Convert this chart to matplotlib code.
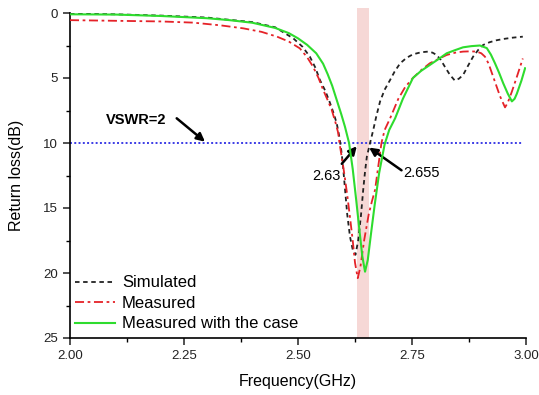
import matplotlib
matplotlib.use("Agg")
import matplotlib.pyplot as plt
from matplotlib.ticker import MultipleLocator, FormatStrFormatter

plt.rcParams['font.family'] = ['Liberation Sans', 'DejaVu Sans']

# simulated return loss (dB)
sim_f = [2.00, 2.10, 2.20, 2.30, 2.40, 2.45, 2.49, 2.51, 2.526, 2.538, 2.548, 2.56, 2.57,
         2.578, 2.585, 2.590, 2.594, 2.598, 2.603, 2.608, 2.614, 2.620, 2.626, 2.632, 2.638,
         2.643, 2.647, 2.651, 2.658, 2.665, 2.672, 2.680, 2.690, 2.702, 2.712, 2.724, 2.738,
         2.752, 2.77, 2.785, 2.795, 2.804, 2.813, 2.822, 2.833, 2.844, 2.853, 2.862, 2.873,
         2.884, 2.895, 2.906, 2.92, 2.935, 2.95, 2.97, 2.993]
sim_rl = [0.05, 0.1, 0.2, 0.35, 0.7, 1.1, 1.96, 2.6, 3.36, 4.2, 5.15, 6.0, 6.9,
          7.7, 8.5, 9.4, 10.3, 11.5, 13.5, 15.5, 17.2, 18.2, 18.6, 17.5, 15.6,
          13.6, 12.2, 11.05, 10.0, 9.0, 7.9, 6.8, 5.9, 5.15, 4.5, 3.87, 3.45,
          3.18, 3.02, 2.97, 3.05, 3.23, 3.6, 4.13, 4.75, 5.2, 5.05, 4.77, 4.05,
          3.36, 2.85, 2.46, 2.25, 2.1, 2.0, 1.9, 1.82]

# measured
meas_f = [2.00, 2.10, 2.20, 2.27, 2.33, 2.38, 2.42, 2.454, 2.48, 2.504, 2.52, 2.533, 2.545,
          2.555, 2.565, 2.574, 2.582, 2.588, 2.591, 2.600, 2.608, 2.615, 2.620, 2.625, 2.631,
          2.637, 2.645, 2.655, 2.662, 2.669, 2.676, 2.683, 2.690, 2.702, 2.72, 2.735, 2.752,
          2.77, 2.789, 2.81, 2.826, 2.845, 2.862, 2.877, 2.892, 2.902, 2.910, 2.918, 2.928,
          2.936, 2.943, 2.954, 2.960, 2.969, 2.980, 2.993]
meas_rl = [0.55, 0.6, 0.65, 0.74, 0.95, 1.18, 1.45, 1.82, 2.2, 2.72, 3.4, 4.13, 5.0,
           5.9, 6.7, 7.46, 8.4, 9.2, 10.0, 12.0, 14.0, 16.0, 17.5, 19.2, 20.4,
           19.5, 17.5, 15.5, 14.5, 13.6, 11.8, 10.0, 9.0, 8.1, 6.6, 5.7, 5.0,
           4.4, 3.87, 3.5, 3.23, 3.05, 2.97, 2.95, 2.97, 3.1, 3.36, 3.9, 4.9,
           5.7, 6.4, 7.26, 6.9, 6.05, 4.9, 3.5]

# measured with the case
case_f = [2.00, 2.10, 2.20, 2.30, 2.35, 2.40, 2.45, 2.48, 2.50, 2.52, 2.54, 2.555, 2.565,
          2.575, 2.585, 2.595, 2.603, 2.612, 2.620, 2.628, 2.635, 2.641, 2.647, 2.653, 2.660,
          2.668, 2.678, 2.690, 2.700, 2.713, 2.73, 2.752, 2.77, 2.789, 2.81, 2.826, 2.845,
          2.862, 2.88, 2.899, 2.914, 2.923, 2.932, 2.941, 2.950, 2.960, 2.969, 2.975, 2.980,
          2.990, 2.998]
case_rl = [0.10, 0.12, 0.23, 0.40, 0.55, 0.75, 1.15, 1.55, 1.95, 2.45, 3.1, 3.9, 4.7,
           5.6, 6.7, 7.8, 8.75, 10.0, 12.0, 14.5, 16.8, 18.7, 19.9, 19.0, 17.0,
           14.8, 12.3, 10.1, 9.0, 8.1, 6.6, 5.0, 4.45, 4.0, 3.5, 3.1, 2.85,
           2.64, 2.55, 2.5, 2.7, 3.2, 3.87, 4.6, 5.4, 6.2, 6.8, 6.6, 6.2,
           5.2, 4.25]

vswr_level = 10
band = (2.63, 2.655)

fig = plt.figure(figsize=(5.39, 3.95), dpi=100)
ax = fig.add_axes([70 / 539, 1 - 338 / 395, 456 / 539, 325 / 395])

ax.axvspan(band[0], band[1], ymin=0, ymax=1.015, color='#f6d8d6', lw=0, clip_on=False, zorder=0)
ax.plot([2.0, 2.993], [vswr_level, vswr_level], color='#3c3ce6', lw=1.4, ls=(0, (1, 1.2)), zorder=2)

ax.plot(sim_f, sim_rl, color='#222222', lw=1.3, ls=(0, (2.5, 2)), label='Simulated', zorder=3)
ax.plot(meas_f, meas_rl, color='#e52228', lw=1.3, ls=(0, (5, 2, 1.5, 2)), label='Measured', zorder=3)
ax.plot(case_f, case_rl, color='#2edc2e', lw=1.5, label='Measured with the case', zorder=4)

ax.set_xlim(2.0, 3.0)
ax.set_ylim(25, 0)
for s in ['top', 'right']:
    ax.spines[s].set_visible(False)
for s in ['left', 'bottom']:
    ax.spines[s].set_linewidth(1.2)
ax.xaxis.set_major_locator(MultipleLocator(0.25))
ax.xaxis.set_minor_locator(MultipleLocator(0.125))
ax.yaxis.set_major_locator(MultipleLocator(5))
ax.yaxis.set_minor_locator(MultipleLocator(2.5))
ax.xaxis.set_major_formatter(FormatStrFormatter('%.2f'))
ax.tick_params(which='major', direction='out', length=5, width=1.1, labelsize=9.5, colors='#222222')
ax.tick_params(which='minor', direction='out', length=3, width=1.0)

ax.set_xlabel('Frequency(GHz)', fontsize=11.5, labelpad=9)
ax.set_ylabel('Return loss(dB)', fontsize=11.5, labelpad=14)

arrow = dict(arrowstyle='-|>', color='black', lw=1.8, mutation_scale=12, shrinkA=0, shrinkB=0)
ax.annotate('', xy=(2.296, 9.9), xytext=(2.234, 8.1), arrowprops=arrow)
ax.text(2.212, 8.2, 'VSWR=2', fontsize=10.5, fontweight='bold', ha='right', va='center')
ax.annotate('', xy=(2.629, 10.25), xytext=(2.596, 11.6), arrowprops=arrow)
ax.text(2.562, 12.5, '2.63', fontsize=10.5, ha='center', va='center')
ax.annotate('', xy=(2.656, 10.35), xytext=(2.727, 12.1), arrowprops=arrow)
ax.text(2.770, 12.3, '2.655', fontsize=10.5, ha='center', va='center')

ax.legend(loc='lower left', bbox_to_anchor=(-0.003, 0.0), frameon=False, fontsize=12,
          handlelength=2.4, handletextpad=0.4, labelspacing=0.33, borderaxespad=0.0)

fig.savefig('out.png', dpi=100)
